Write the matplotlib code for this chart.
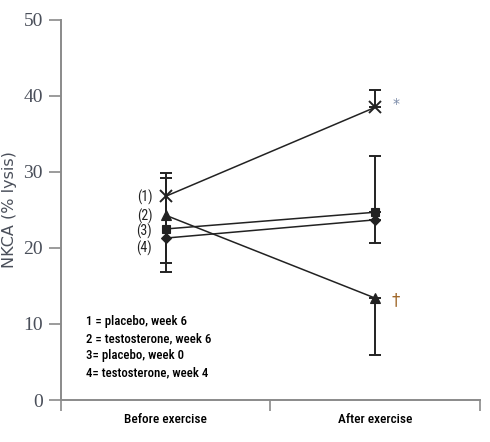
import matplotlib
matplotlib.use("Agg")
import matplotlib.pyplot as plt
from matplotlib import font_manager as fm
import numpy as np

# Data
categories = ["Before exercise", "After exercise"]
series_names = ["1 = placebo, week 6", "2 = testosterone, week 6",
                "3= placebo, week 0", "4= testosterone, week 4"]
point_tags = ["(1)", "(2)", "(3)", "(4)"]
s1 = [26.8, 38.5]
s2 = [24.3, 13.4]
s3 = [22.5, 24.7]
s4 = [21.3, 23.7]
# whisker ends (lower, upper); None = no whisker
s1_low = [18.0, None]; s1_high = [29.9, 40.8]
s2_low = [16.8, 5.9];  s2_high = [29.2, None]
s3_low = [None, None]; s3_high = [None, 32.1]
s4_low = [None, 20.7]; s4_high = [None, None]
y_ticks = [0, 10, 20, 30, 40, 50]
tag_y = [26.7, 24.2, 22.2, 19.9]

series = [s1, s2, s3, s4]
lows = [s1_low, s2_low, s3_low, s4_low]
highs = [s1_high, s2_high, s3_high, s4_high]
markers = ['x', '^', 's', 'D']
msizes = [8, 7, 6, 5]

names = {f.name for f in fm.fontManager.ttflist}
narrow_fam = None
for cand in ['Liberation Sans Narrow', 'DejaVu Sans Condensed', 'Roboto Condensed', 'Open Sans Condensed']:
    if cand in names:
        narrow_fam = cand
        break

fig = plt.figure(figsize=(4.9, 4.42), dpi=100)
ax = fig.add_axes([0.1245, 0.095, 0.855, 0.86])
xpos = np.array([0.5, 1.5])
ink = '#222222'
gray = '#8a8a8a'

def ntext(x, y, s, size, **kw):
    if narrow_fam:
        return ax.text(x, y, s, fontsize=size, family=[narrow_fam, 'DejaVu Sans'], **kw)
    return ax.text(x, y, s, fontsize=size * 0.9, family=['DejaVu Sans'],
                   fontstretch='condensed', **kw)

for vals, lo, hi, m, ms in zip(series, lows, highs, markers, msizes):
    for xi, v, l, h in zip(xpos, vals, lo, hi):
        if l is None and h is None:
            continue
        le = 0.0 if l is None else v - l
        he = 0.0 if h is None else h - v
        ax.errorbar([xi], [v], yerr=[[le], [he]], fmt='none', ecolor=ink,
                    elinewidth=1.4, capsize=4, capthick=1.4, zorder=2)
    ax.plot(xpos, vals, color=ink, lw=1.1, marker=m, ms=ms,
            mew=1.4 if m == 'x' else 0.8, mec=ink, mfc=ink, zorder=3)

for tag, ty in zip(point_tags, tag_y):
    ntext(0.435, ty, tag, 10, ha='right', va='center', color=ink)

ax.text(1.585, s1[1] + 0.4, '*', ha='left', va='center', fontsize=10, color='#7a8aa8')
ax.text(1.58, s2[1] - 0.2, '\u2020', ha='left', va='center', fontsize=12, color='#a0682a')

for i, name in enumerate(series_names):
    ntext(0.12, 10.3 - i * 2.25, name, 9.3, ha='left', va='center', color='black',
          fontweight='medium')

ax.set_xlim(0, 2)
ax.set_ylim(0, 50)
ax.set_yticks(y_ticks)
ax.set_yticklabels([str(t) for t in y_ticks], family='Liberation Serif',
                   fontsize=14, color='#4a4f5a')
ax.set_xticks([0, 1, 2])
ax.set_xticklabels([])
for xi, c in zip(xpos, categories):
    ntext(xi, -1.7, c, 9.5, ha='center', va='top', color='black', fontweight='medium')
ax.tick_params(axis='x', which='major', length=8, direction='out', color=gray, width=1.2)
ax.tick_params(axis='y', length=9, width=1.2, color=gray, pad=4)
for sp in ['top', 'right']:
    ax.spines[sp].set_visible(False)
for sp in ['left', 'bottom']:
    ax.spines[sp].set_color(gray)
    ax.spines[sp].set_linewidth(1.4)
fig.text(10 / 490, 1 - 210 / 442, 'NKCA (% lysis)', rotation=90, ha='center',
         va='center', fontsize=11.5, color='#4a4f5a')
for t in ax.texts:
    t.set_clip_on(False)

fig.savefig('out.png', dpi=100)
